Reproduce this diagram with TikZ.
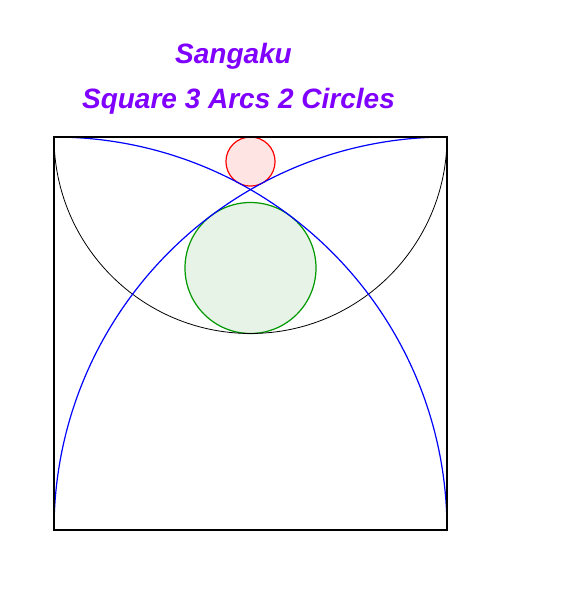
\documentclass[tikz,border=0pt]{standalone}
\usepackage{fontspec}
\setmainfont{Liberation Sans}
\definecolor{titlepurple}{RGB}{127,0,255}
\definecolor{redfill}{RGB}{255,228,228}
\definecolor{greenfill}{RGB}{230,243,230}
\definecolor{greenline}{RGB}{0,153,0}
\definecolor{blueline}{RGB}{0,0,255}
\tikzset{
  titletext/.style={anchor=base, inner sep=0pt, text=titlepurple, font=\fontsize{28}{30}\selectfont\bfseries\itshape},
  sqline/.style={draw=black, line width=1.4pt},
  semiline/.style={draw=black, line width=0.8pt},
  bigarc/.style={draw=blueline, line width=1.2pt},
  redcirc/.style={draw=red, fill=redfill, line width=1.2pt},
  greencirc/.style={draw=greenline, fill=greenfill, line width=1.2pt}
}
\begin{document}
\begin{tikzpicture}[x=1pt,y=1pt]
\useasboundingbox (0,0) rectangle (567,614);
\node[titletext] (t1) at (233.5,550) {Sangaku};
\node[titletext] (t2) at (238.5,505) {Square 3 Arcs 2 Circles};
% circles
\draw[greencirc] (250.5,346) circle[radius=65.5];
\draw[redcirc] (250.5,452.4375) circle[radius=24.5625];
% black semicircle
\draw[semiline] (54,477) arc[start angle=180, end angle=360, radius=196.5];
% blue arcs
\draw[bigarc] (54,84) arc[start angle=180, end angle=90, radius=393];
\draw[bigarc] (447,84) arc[start angle=0, end angle=90, radius=393];
% square
\draw[sqline] (54,84) rectangle (447,477);
\end{tikzpicture}
\end{document}
